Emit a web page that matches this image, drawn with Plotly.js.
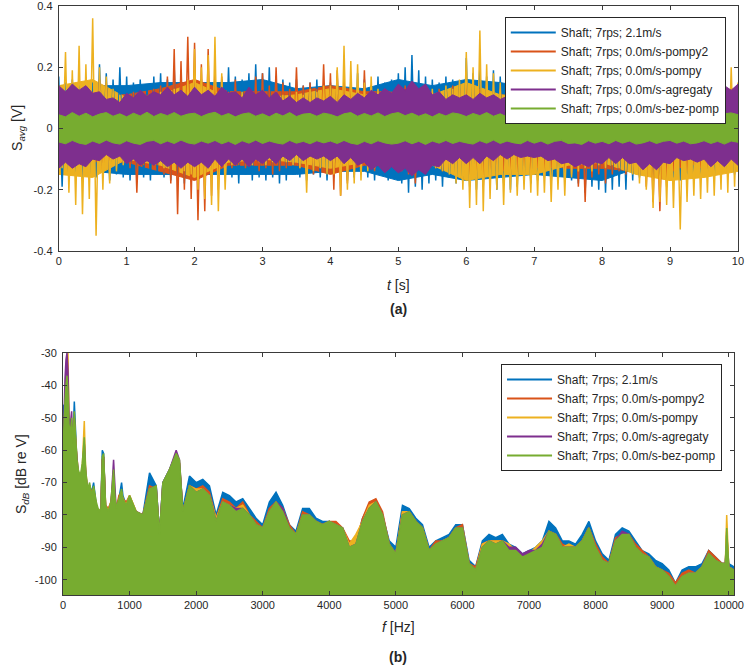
<!DOCTYPE html>
<html>
<head>
<meta charset="utf-8">
<script src="https://cdn.plot.ly/plotly-3.0.1.min.js"></script>
<style>
  html, body { margin: 0; padding: 0; background: #fff; }
  #chart { width: 749px; height: 668px; }
</style>
</head>
<body>
<div id="chart"></div>
<script>
'use strict'

// ---- legend / series ----
var seriesNames = ['Shaft; 7rps; 2.1m/s', 'Shaft; 7rps; 0.0m/s-pompy2', 'Shaft; 7rps; 0.0m/s-pompy',
                   'Shaft; 7rps; 0.0m/s-agregaty', 'Shaft; 7rps; 0.0m/s-bez-pomp'];
var seriesColors = ['#0072BD', '#D95319', '#EDB120', '#7E2F8E', '#77AC30'];

// ---- (a) time signal: peak values every 0.05 s (max, min, max, ...) ----
var sigStep = 0.05;
var blueSig = [
0.17,-0.19,0.15,-0.16,0.16,-0.15,0.14,-0.17,0.16,-0.15,
0.15,-0.16,0.21,-0.14,0.18,-0.17,0.16,-0.15,0.2,-0.16,
0.17,-0.17,0.15,-0.15,0.16,-0.16,0.14,-0.17,0.17,-0.15,
0.18,-0.16,0.16,-0.17,0.2,-0.15,0.17,-0.18,0.16,-0.16,
0.19,-0.17,0.16,-0.15,0.17,-0.16,0.15,-0.17,0.16,-0.15,
0.2,-0.16,0.17,-0.18,0.16,-0.15,0.18,-0.17,0.21,-0.16,
0.18,-0.17,0.2,-0.16,0.17,-0.18,0.16,-0.17,0.15,-0.15,
0.16,-0.16,0.14,-0.17,0.15,-0.15,0.16,-0.16,0.14,-0.17,
0.15,-0.16,0.17,-0.15,0.15,-0.17,0.16,-0.16,0.18,-0.15,
0.16,-0.16,0.14,-0.17,0.17,-0.15,0.15,-0.17,0.16,-0.16,
0.18,-0.18,0.2,-0.21,0.24,-0.19,0.19,-0.2,0.17,-0.18,
0.16,-0.17,0.15,-0.19,0.17,-0.16,0.16,-0.18,0.15,-0.17,
0.23,-0.19,0.18,-0.2,0.21,-0.18,0.17,-0.19,0.19,-0.2,
0.17,-0.18,0.16,-0.2,0.18,-0.19,0.15,-0.17,0.16,-0.18,
0.15,-0.17,0.14,-0.16,0.16,-0.18,0.15,-0.17,0.14,-0.16,
0.16,-0.17,0.15,-0.18,0.17,-0.21,0.15,-0.19,0.16,-0.2,
0.17,-0.21,0.15,-0.2,0.16,-0.19,0.15,-0.2,0.14,-0.17,
0.15,-0.16,0.14,-0.15,0.15,-0.17,0.14,-0.16,0.15,-0.15,
0.14,-0.16,0.15,-0.17,0.14,-0.15,0.15,-0.16,0.14,-0.15,
0.15,-0.14,0.14,-0.16,0.13,-0.15,0.15,-0.14,0.14,-0.15,
0.13];
var orangeSig = [
0.1,-0.1,0.11,-0.11,0.09,-0.1,0.12,-0.12,0.1,-0.11,
0.12,-0.11,0.16,-0.15,0.15,-0.14,0.11,-0.1,0.1,-0.11,
0.11,-0.13,0.12,-0.21,0.1,-0.12,0.11,-0.11,0.13,-0.12,
0.14,-0.15,0.17,-0.18,0.26,-0.28,0.22,-0.2,0.3,-0.23,
0.28,-0.3,0.21,-0.27,0.26,-0.22,0.19,-0.2,0.17,-0.16,
0.12,-0.13,0.16,-0.12,0.11,-0.13,0.13,-0.12,0.17,-0.14,
0.18,-0.13,0.14,-0.15,0.2,-0.14,0.15,-0.13,0.13,-0.12,
0.2,-0.13,0.14,-0.14,0.15,-0.15,0.13,-0.13,0.21,-0.14,
0.18,-0.2,0.19,-0.22,0.17,-0.18,0.14,-0.15,0.13,-0.14,
0.19,-0.13,0.13,-0.14,0.12,-0.13,0.13,-0.12,0.12,-0.13,
0.13,-0.14,0.14,-0.15,0.13,-0.18,0.12,-0.14,0.13,-0.13,
0.12,-0.13,0.13,-0.14,0.12,-0.13,0.14,-0.15,0.13,-0.14,
0.14,-0.16,0.15,-0.15,0.13,-0.19,0.14,-0.16,0.12,-0.15,
0.13,-0.14,0.12,-0.15,0.13,-0.14,0.12,-0.13,0.13,-0.14,
0.12,-0.13,0.11,-0.14,0.12,-0.13,0.11,-0.12,0.12,-0.14,
0.13,-0.15,0.12,-0.19,0.13,-0.24,0.12,-0.16,0.13,-0.15,
0.12,-0.18,0.13,-0.15,0.11,-0.14,0.12,-0.15,0.11,-0.14,
0.12,-0.15,0.11,-0.19,0.13,-0.24,0.12,-0.27,0.11,-0.19,
0.11,-0.14,0.12,-0.13,0.11,-0.14,0.1,-0.12,0.11,-0.13,
0.12,-0.13,0.11,-0.12,0.1,-0.11,0.12,-0.13,0.11,-0.12,
0.1];
var yellowSig = [
0.14,-0.13,0.25,-0.21,0.19,-0.25,0.27,-0.28,0.21,-0.23,
0.36,-0.35,0.2,-0.2,0.17,-0.18,0.13,-0.14,0.11,-0.12,
0.1,-0.1,0.09,-0.11,0.11,-0.1,0.1,-0.09,0.09,-0.11,
0.12,-0.13,0.11,-0.1,0.13,-0.12,0.12,-0.14,0.16,-0.15,
0.26,-0.2,0.2,-0.23,0.24,-0.25,0.3,-0.27,0.18,-0.2,
0.11,-0.12,0.1,-0.11,0.12,-0.1,0.11,-0.12,0.1,-0.11,
0.11,-0.12,0.1,-0.11,0.12,-0.1,0.11,-0.11,0.1,-0.12,
0.12,-0.13,0.11,-0.21,0.13,-0.14,0.12,-0.13,0.14,-0.15,
0.14,-0.15,0.2,-0.22,0.27,-0.2,0.22,-0.18,0.21,-0.17,
0.15,-0.14,0.17,-0.13,0.13,-0.12,0.12,-0.13,0.11,-0.13,
0.12,-0.12,0.11,-0.13,0.13,-0.14,0.12,-0.13,0.11,-0.12,
0.13,-0.13,0.12,-0.14,0.14,-0.15,0.13,-0.18,0.16,-0.2,
0.25,-0.26,0.2,-0.25,0.32,-0.27,0.21,-0.23,0.18,-0.2,
0.15,-0.25,0.13,-0.21,0.12,-0.22,0.13,-0.2,0.12,-0.21,
0.13,-0.22,0.12,-0.21,0.13,-0.24,0.12,-0.2,0.12,-0.22,
0.11,-0.16,0.1,-0.14,0.11,-0.13,0.1,-0.14,0.11,-0.12,
0.1,-0.13,0.11,-0.12,0.1,-0.13,0.09,-0.14,0.1,-0.15,
0.12,-0.18,0.13,-0.2,0.12,-0.26,0.14,-0.24,0.13,-0.25,
0.14,-0.26,0.13,-0.33,0.15,-0.24,0.13,-0.22,0.14,-0.23,
0.13,-0.21,0.15,-0.22,0.14,-0.2,0.24,-0.21,0.2,-0.19,
0.15];

// dense part of the three outer signals: upper / lower level every 0.5 s
var baseStep = 0.5;
var blueBaseHi = [0.14,0.14,0.14,0.15,0.15,0.15,0.16,0.13,0.14,0.13,0.16,0.14,0.16,0.15,0.13,0.14,0.15,0.13,0.12,0.12,0.12];
var blueBaseLo = [-0.15,-0.14,-0.15,-0.15,-0.15,-0.15,-0.15,-0.15,-0.14,-0.14,-0.17,-0.15,-0.17,-0.16,-0.15,-0.16,-0.17,-0.13,-0.13,-0.13,-0.13];
var orangeBaseHi = [0.1,0.11,0.11,0.13,0.16,0.12,0.12,0.12,0.14,0.12,0.12,0.11,0.12,0.11,0.1,0.11,0.11,0.11,0.1,0.11,0.1];
var orangeBaseLo = [-0.1,-0.11,-0.11,-0.14,-0.17,-0.12,-0.12,-0.12,-0.15,-0.12,-0.12,-0.12,-0.13,-0.12,-0.12,-0.13,-0.13,-0.14,-0.12,-0.11,-0.11];
var yellowBaseHi = [0.14,0.16,0.1,0.11,0.15,0.1,0.1,0.11,0.13,0.11,0.1,0.11,0.15,0.11,0.1,0.1,0.09,0.1,0.11,0.12,0.13];
var yellowBaseLo = [-0.15,-0.16,-0.1,-0.12,-0.16,-0.11,-0.1,-0.11,-0.13,-0.11,-0.11,-0.12,-0.17,-0.15,-0.15,-0.12,-0.11,-0.15,-0.17,-0.16,-0.14];

// dense bands: upper / lower envelope every 0.1 s
var envStep = 0.1;
var purpleHi = [
0.14,0.12,0.145,0.125,0.14,0.115,0.12,0.095,0.1,0.085,
0.115,0.1,0.125,0.105,0.12,0.11,0.135,0.11,0.125,0.105,
0.135,0.11,0.125,0.105,0.135,0.115,0.12,0.1,0.135,0.11,
0.125,0.1,0.12,0.09,0.105,0.085,0.1,0.085,0.1,0.09,
0.105,0.085,0.11,0.095,0.115,0.1,0.125,0.11,0.13,0.115,
0.145,0.125,0.155,0.13,0.145,0.11,0.12,0.095,0.11,0.1,
0.11,0.095,0.115,0.1,0.11,0.095,0.105,0.085,0.1,0.085,
0.095,0.085,0.1,0.085,0.1,0.09,0.11,0.095,0.105,0.09,
0.105,0.085,0.1,0.085,0.105,0.09,0.115,0.095,0.115,0.09,
0.105,0.085,0.11,0.1,0.115,0.1,0.125,0.105,0.14,0.125,
0.145];
var purpleLo = [
-0.13,-0.11,-0.13,-0.115,-0.125,-0.1,-0.105,-0.085,-0.1,-0.09,
-0.115,-0.1,-0.12,-0.105,-0.12,-0.105,-0.125,-0.11,-0.13,-0.11,
-0.125,-0.11,-0.13,-0.1,-0.125,-0.1,-0.12,-0.1,-0.125,-0.1,
-0.115,-0.095,-0.115,-0.09,-0.105,-0.085,-0.105,-0.09,-0.1,-0.09,
-0.105,-0.09,-0.115,-0.095,-0.12,-0.11,-0.135,-0.12,-0.145,-0.125,
-0.145,-0.13,-0.155,-0.135,-0.15,-0.12,-0.125,-0.1,-0.115,-0.095,
-0.115,-0.095,-0.115,-0.09,-0.105,-0.085,-0.1,-0.085,-0.095,-0.09,
-0.095,-0.09,-0.105,-0.1,-0.115,-0.11,-0.125,-0.115,-0.125,-0.11,
-0.115,-0.095,-0.115,-0.095,-0.115,-0.11,-0.135,-0.115,-0.135,-0.11,
-0.115,-0.095,-0.105,-0.1,-0.11,-0.1,-0.125,-0.105,-0.125,-0.1,
-0.12];
var greenHi = [
0.045,0.038,0.052,0.04,0.05,0.038,0.047,0.052,0.04,0.048,
0.038,0.05,0.041,0.053,0.039,0.049,0.042,0.052,0.04,0.047,
0.05,0.039,0.048,0.053,0.041,0.049,0.038,0.047,0.051,0.04,
0.048,0.038,0.05,0.041,0.052,0.039,0.047,0.049,0.04,0.05,
0.046,0.038,0.048,0.052,0.04,0.049,0.041,0.051,0.039,0.048,
0.052,0.042,0.05,0.04,0.048,0.038,0.049,0.041,0.051,0.047,
0.039,0.049,0.042,0.052,0.04,0.048,0.038,0.05,0.041,0.047,
0.051,0.04,0.048,0.039,0.049,0.042,0.052,0.041,0.047,0.05,
0.04,0.048,0.038,0.051,0.042,0.049,0.039,0.047,0.052,0.041,
0.048,0.04,0.05,0.042,0.052,0.041,0.049,0.039,0.048,0.051,
0.045];
var greenLo = [
-0.044,-0.05,-0.039,-0.048,-0.052,-0.041,-0.049,-0.038,-0.047,-0.051,
-0.04,-0.048,-0.052,-0.042,-0.039,-0.05,-0.041,-0.049,-0.038,-0.047,
-0.051,-0.041,-0.048,-0.039,-0.05,-0.042,-0.052,-0.04,-0.048,-0.038,
-0.049,-0.041,-0.047,-0.051,-0.039,-0.048,-0.042,-0.05,-0.04,-0.047,
-0.041,-0.049,-0.039,-0.048,-0.052,-0.042,-0.05,-0.04,-0.047,-0.051,
-0.048,-0.04,-0.05,-0.042,-0.052,-0.041,-0.048,-0.039,-0.049,-0.042,
-0.047,-0.051,-0.04,-0.048,-0.038,-0.049,-0.041,-0.047,-0.05,-0.039,
-0.048,-0.041,-0.051,-0.042,-0.039,-0.049,-0.047,-0.052,-0.04,-0.048,
-0.042,-0.05,-0.039,-0.048,-0.041,-0.051,-0.047,-0.04,-0.049,-0.042,
-0.039,-0.048,-0.041,-0.05,-0.047,-0.04,-0.049,-0.042,-0.051,-0.041,
-0.045];

// ---- (b) spectrum: frequency grid [Hz] and level [dB re V] ----
var freqHz = [0,15,30,45,60,75,90,110,130,150,170,190,210,230,260,290,320,340,370,400,
  430,460,500,540,570,590,610,640,680,720,760,780,800,840,880,900,950,1000,
  1100,1200,1300,1400,1450,1500,1600,1700,1750,1800,
  1900,2000,2100,2200,2300,2400,2500,2600,2700,2800,
  2900,3000,3100,3200,3300,3400,3500,3600,3700,3800,
  3900,4000,4100,4200,4300,4400,4500,4600,4700,4800,
  4900,5000,5100,5200,5300,5400,5500,5600,5700,5800,
  5900,6000,6100,6200,6300,6400,6500,6600,6700,6800,
  6900,7000,7100,7200,7300,7400,7500,7600,7700,7800,
  7900,8000,8100,8200,8300,8400,8500,8600,8700,8800,
  8900,9000,9100,9200,9300,9400,9500,9600,9700,9800,
  9900,9950,9970,10000,10080];
var blueDb = [-47,-46,-50,-45,-44,-48,-55,-58,-55,-57,-45,-57,-64,-67,-68,-66,-60,-67,-72,-71,
  -73,-70,-77,-79,-78,-60,-61,-78,-80,-77,-70,-75,-79,-75,-70,-74,-77,-75,
  -80,-80,-67,-71,-86,-70,-66,-61,-65,-78,
  -68,-70,-69,-71,-80,-73,-74,-76,-75,-78,
  -81,-83,-76,-73,-77,-83,-85,-78,-78,-81,
  -82,-82,-83,-84,-89,-89,-81,-77,-76,-80,
  -88,-90,-77,-78,-81,-83,-90,-88,-87,-86,
  -83,-83,-94,-96,-88,-86,-87,-86,-89,-90,
  -92,-91,-90,-88,-82,-84,-88,-88,-89,-86,
  -82,-88,-92,-94,-86,-84,-85,-88,-91,-92,
  -94,-95,-97,-101,-97,-96,-96,-95,-91,-93,
  -95,-95,-86,-95,-96];
var orangeDb = [-55,-50,-48,-44,-40,-45,-54,-57,-53,-59,-50,-57,-64,-67,-69,-66,-58,-67,-73,-71,
  -73,-72,-77,-80,-78,-63,-62,-77,-78,-76,-68,-75,-78,-74,-73,-75,-76,-74,
  -79,-80,-71,-72,-87,-71,-67,-62,-64,-79,
  -71,-72,-71,-73,-81,-75,-76,-78,-76,-80,
  -82,-84,-78,-76,-78,-83,-86,-79,-80,-82,
  -83,-82,-82,-84,-88,-88,-81,-76,-75,-79,
  -89,-92,-79,-79,-82,-84,-91,-88,-88,-87,
  -84,-83,-95,-96,-89,-88,-88,-88,-90,-91,
  -93,-92,-91,-90,-85,-86,-89,-90,-90,-88,
  -84,-89,-93,-95,-87,-86,-86,-89,-91,-93,
  -96,-97,-98,-101,-98,-97,-98,-96,-91,-93,
  -95,-95,-85,-96,-97];
var yellowDb = [-58,-52,-46,-38,-33,-30,-50,-56,-54,-59,-52,-58,-64,-67,-69,-65,-51,-66,-72,-71,
  -74,-72,-77,-79,-78,-63,-62,-77,-79,-76,-70,-75,-78,-76,-73,-75,-77,-74,
  -79,-80,-72,-72,-86,-71,-66,-62,-64,-79,
  -71,-72,-72,-74,-81,-76,-77,-78,-77,-80,
  -83,-84,-79,-76,-79,-84,-86,-80,-80,-82,
  -83,-82,-83,-84,-89,-86,-82,-77,-76,-80,
  -89,-92,-79,-79,-82,-84,-91,-89,-88,-87,
  -84,-84,-95,-97,-89,-88,-88,-88,-89,-91,
  -93,-92,-90,-88,-85,-86,-90,-89,-90,-88,
  -84,-90,-94,-95,-88,-86,-86,-90,-92,-93,
  -96,-97,-99,-102,-99,-98,-98,-96,-92,-94,
  -95,-95,-80,-96,-97];
var purpleDb = [-62,-45,-38,-32,-30,-35,-50,-52,-48,-60,-52,-58,-64,-67,-68,-66,-58,-67,-73,-71,
  -75,-72,-77,-80,-79,-63,-62,-78,-80,-77,-63,-74,-79,-76,-74,-76,-78,-76,
  -79,-80,-72,-71,-86,-70,-66,-60,-63,-79,
  -71,-73,-72,-74,-82,-76,-77,-78,-78,-80,
  -83,-84,-79,-76,-78,-84,-86,-80,-80,-82,
  -83,-82,-83,-84,-90,-89,-82,-78,-76,-80,
  -89,-92,-80,-79,-82,-84,-91,-89,-88,-87,
  -84,-84,-95,-97,-90,-88,-89,-88,-90,-90,
  -92,-91,-91,-89,-85,-86,-90,-90,-90,-88,
  -84,-90,-94,-95,-88,-85,-86,-90,-92,-93,
  -96,-97,-99,-102,-99,-98,-98,-96,-92,-94,
  -95,-95,-89,-96,-97];
var greenDb = [-60,-50,-45,-40,-37,-42,-52,-55,-50,-58,-48,-56,-63,-66,-68,-64,-56,-66,-72,-70,
  -74,-71,-76,-79,-78,-62,-61,-77,-79,-76,-66,-74,-78,-75,-72,-75,-77,-74,
  -79,-80,-72,-71,-86,-70,-66,-61,-63,-79,
  -71,-73,-72,-74,-82,-76,-77,-79,-78,-80,
  -83,-84,-79,-76,-79,-84,-86,-80,-80,-82,
  -83,-82,-83,-84,-90,-89,-82,-78,-76,-80,
  -89,-92,-80,-79,-82,-84,-91,-89,-88,-87,
  -84,-84,-95,-97,-90,-88,-89,-88,-91,-91,
  -93,-92,-91,-90,-85,-86,-90,-90,-90,-88,
  -84,-90,-94,-95,-88,-86,-86,-90,-92,-93,
  -96,-97,-99,-102,-99,-98,-98,-96,-92,-94,
  -95,-95,-84,-96,-97];

var topTickVals = [-0.4, -0.2, 0, 0.2, 0.4];
var topTickText = ['-0.4', '-0.2', '0', '0.2', '0.4'];
var timeTicks = [0, 1, 2, 3, 4, 5, 6, 7, 8, 9, 10];
var dbTickVals = [-100, -90, -80, -70, -60, -50, -40, -30];
var dbTickText = ['-100', '-90', '-80', '-70', '-60', '-50', '-40', '-30'];
var freqTicks = [0, 1000, 2000, 3000, 4000, 5000, 6000, 7000, 8000, 9000, 10000];
var freqTickText = ['0', '1000', '2000', '3000', '4000', '5000', '6000', '7000', '8000', '9000', '10000'];

var FONT = 'Liberation Sans, Arial, Helvetica, sans-serif';
var TXT = '#262626';
var FLOOR = -110;

function zigzag(sig, color) {
  return {
    type: 'scatter', mode: 'lines',
    x: sig.map(function (v, i) { return i * sigStep; }), y: sig,
    line: { color: color, width: 1.5 },
    xaxis: 'x', yaxis: 'y', showlegend: false, hoverinfo: 'skip'
  };
}

function band(hi, lo, step, color, lw) {
  var t = hi.map(function (v, i) { return i * step; });
  return {
    type: 'scatter', mode: 'lines', fill: 'toself', fillcolor: color,
    x: t.concat(t.slice().reverse()), y: hi.concat(lo.slice().reverse()),
    line: { color: color, width: lw },
    xaxis: 'x', yaxis: 'y', showlegend: false, hoverinfo: 'skip'
  };
}

function spectrum(db, color) {
  var last = freqHz[freqHz.length - 1];
  return {
    type: 'scatter', mode: 'lines', fill: 'toself', fillcolor: color,
    x: freqHz.concat([last, freqHz[0]]), y: db.concat([FLOOR, FLOOR]),
    line: { color: color, width: 1.5 },
    xaxis: 'x2', yaxis: 'y2', showlegend: false, hoverinfo: 'skip'
  };
}

function legendEntry(i, ax, leg) {
  return {
    type: 'scatter', mode: 'lines', x: [null], y: [null],
    name: seriesNames[i], line: { color: seriesColors[i], width: 2 },
    xaxis: ax[0], yaxis: ax[1], legend: leg, showlegend: true
  };
}

var data = [
  band(blueBaseHi, blueBaseLo, baseStep, seriesColors[0], 1),
  band(orangeBaseHi, orangeBaseLo, baseStep, seriesColors[1], 1),
  band(yellowBaseHi, yellowBaseLo, baseStep, seriesColors[2], 1),
  zigzag(blueSig, seriesColors[0]),
  zigzag(orangeSig, seriesColors[1]),
  zigzag(yellowSig, seriesColors[2]),
  band(purpleHi, purpleLo, envStep, seriesColors[3], 1),
  band(greenHi, greenLo, envStep, seriesColors[4], 1),
  spectrum(blueDb, seriesColors[0]),
  spectrum(orangeDb, seriesColors[1]),
  spectrum(yellowDb, seriesColors[2]),
  spectrum(purpleDb, seriesColors[3]),
  spectrum(greenDb, seriesColors[4])
];
for (var i = 0; i < 5; i++) data.push(legendEntry(i, ['x', 'y'], 'legend'));
for (var j = 0; j < 5; j++) data.push(legendEntry(j, ['x2', 'y2'], 'legend2'));

var axisCommon = {
  showline: true, linecolor: '#3a3a3a', linewidth: 1, mirror: 'ticks',
  ticks: 'inside', ticklen: 4, tickcolor: '#3a3a3a',
  showgrid: false, zeroline: false, fixedrange: true, ticklabeloverflow: 'allow',
  tickfont: { family: FONT, size: 11, color: TXT }
};
function ax(extra) { return Object.assign({}, axisCommon, extra); }

var legendCommon = {
  xanchor: 'right', yanchor: 'top', bgcolor: '#ffffff',
  bordercolor: '#262626', borderwidth: 1, tracegroupgap: 0, itemwidth: 45,
  font: { family: FONT, size: 12, color: TXT }
};

var layout = {
  width: 749, height: 668,
  margin: { l: 0, r: 0, t: 0, b: 0 },
  paper_bgcolor: '#ffffff', plot_bgcolor: '#ffffff',
  showlegend: true,
  xaxis: ax({ domain: [0.0784, 0.9853], range: [0, 10], tickvals: timeTicks, anchor: 'y' }),
  yaxis: ax({ domain: [0.6243, 0.991], range: [-0.4001, 0.4001], tickvals: topTickVals, ticktext: topTickText,
              anchor: 'x', ticklabelstandoff: 3 }),
  xaxis2: ax({ domain: [0.0841, 0.980], range: [0, 10080], tickvals: freqTicks, ticktext: freqTickText, anchor: 'y2' }),
  yaxis2: ax({ domain: [0.1093, 0.4716], range: [-104.7, -29.99], tickvals: dbTickVals, ticktext: dbTickText,
               anchor: 'x2', ticklabelstandoff: 3 }),
  legend: Object.assign({}, legendCommon, { x: 0.969, y: 0.9746 }),
  legend2: Object.assign({}, legendCommon, { x: 0.964, y: 0.455 }),
  annotations: [
    { text: '<i>t</i> [s]', x: 0.5314, y: 0.5734 },
    { text: '<b>(a)</b>', x: 0.5314, y: 0.5374 },
    { text: 'S<sub><i>avg</i></sub> [V]', x: 0.024, y: 0.8084, textangle: -90 },
    { text: '<i>f</i> [Hz]', x: 0.5314, y: 0.0614 },
    { text: '<b>(b)</b>', x: 0.5314, y: 0.0165 },
    { text: 'S<sub><i>dB</i></sub> [dB re V]', x: 0.0294, y: 0.2904, textangle: -90 }
  ].map(function (a) {
    return Object.assign({ xref: 'paper', yref: 'paper', showarrow: false,
      xanchor: 'center', yanchor: 'middle',
      font: { family: FONT, size: 14, color: TXT } }, a);
  })
};

var config = { displayModeBar: false, staticPlot: true };

Plotly.newPlot('chart', data, layout, config);
</script>
</body>
</html>
